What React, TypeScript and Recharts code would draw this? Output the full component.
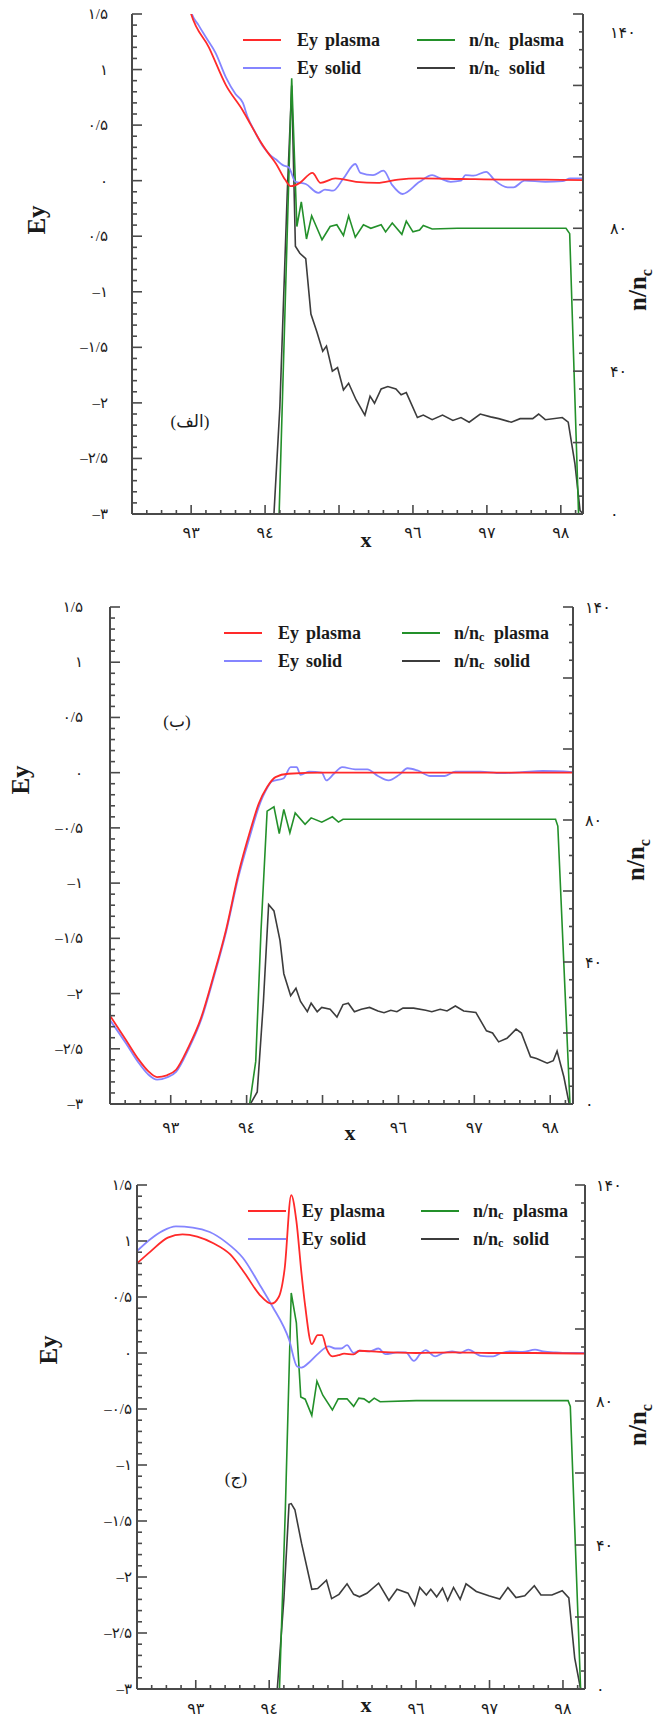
import { LineChart, Line, XAxis, YAxis, Legend } from "recharts"

type Pt = { x: number; y: number }
const pts = (xs: number[], ys: number[]): Pt[] => xs.map((x, i) => ({ x, y: ys[i] }))

// ---------- panel (الف)
const xEyPlasmaA = [92.95, 93.0, 93.24, 93.47, 93.7, 93.81, 93.93, 94.04, 94.15, 94.27, 94.35, 94.47, 94.64, 94.75, 94.95, 95.23, 95.52, 95.8, 96.09, 96.65, 97.22, 97.79, 98.3]
const eyPlasmaA = [1.62, 1.5, 1.2, 0.86, 0.63, 0.5, 0.36, 0.25, 0.15, 0.01, -0.05, -0.02, 0.07, -0.02, 0.02, -0.01, -0.02, 0.01, 0.02, 0.015, 0.01, 0.01, 0.005]
const xEySolidA = [92.97, 93.0, 93.1, 93.2, 93.33, 93.47, 93.6, 93.7, 93.76, 93.87, 93.98, 94.07, 94.15, 94.24, 94.32, 94.41, 94.55, 94.72, 94.81, 94.92, 95.06, 95.22, 95.29, 95.46, 95.6, 95.72, 95.86, 96.09, 96.26, 96.37, 96.51, 96.65, 96.71, 96.82, 96.99, 97.11, 97.28, 97.36, 97.51, 97.79, 98.02, 98.13, 98.3]
const eySolidA = [1.6, 1.52, 1.4, 1.29, 1.15, 0.93, 0.78, 0.7, 0.58, 0.43, 0.3, 0.23, 0.19, 0.14, 0.12, -0.01, -0.03, -0.11, -0.08, -0.09, 0.02, 0.15, 0.07, 0.05, 0.09, -0.04, -0.12, -0.01, 0.05, 0.02, -0.01, 0.0, 0.05, 0.045, 0.08, 0.0, -0.06, -0.06, 0.0, -0.01, -0.005, 0.02, 0.02]
const xNPlasmaA = [92.2, 94.19, 94.36, 94.43, 94.49, 94.56, 94.63, 94.77, 94.88, 94.97, 95.06, 95.13, 95.22, 95.33, 95.43, 95.57, 95.63, 95.72, 95.85, 95.91, 96.0, 96.09, 96.14, 96.26, 96.6, 97.2, 97.7, 98.07, 98.12, 98.24, 98.3]
const nPlasmaA = [0, 0, 122, 80.5, 87.4, 77, 83.5, 76.8, 80.5, 81, 78, 83.5, 77.5, 81, 80, 81, 79, 81.5, 78.3, 82, 79, 79.5, 80.8, 79.8, 80, 80, 80, 80, 78.5, 0, 0]
const xNSolidA = [92.2, 94.12, 94.2, 94.3, 94.36, 94.41, 94.47, 94.55, 94.62, 94.7, 94.78, 94.83, 94.91, 94.98, 95.06, 95.13, 95.23, 95.35, 95.42, 95.48, 95.57, 95.66, 95.77, 95.84, 95.91, 96.06, 96.14, 96.26, 96.4, 96.54, 96.65, 96.76, 96.91, 97.05, 97.16, 97.33, 97.45, 97.62, 97.7, 97.79, 98.02, 98.1, 98.19, 98.26, 98.3]
const nSolidA = [0, 0, 30, 90, 120, 75, 73, 71.5, 56, 51, 45.6, 47, 40, 41, 34.7, 36.6, 32, 27.7, 33, 31, 35, 35.7, 35, 33.4, 34, 27, 27.7, 26.4, 27.7, 26.2, 27, 25.7, 28, 27.2, 26.7, 25.7, 26.7, 26.7, 28, 26.4, 27, 25.7, 14.2, 1, 0]

// ---------- panel (ب)
const xEyPlasmaB = [92.2, 92.41, 92.57, 92.7, 92.82, 92.95, 93.07, 93.23, 93.4, 93.56, 93.73, 93.89, 94.05, 94.16, 94.27, 94.38, 94.55, 95.0, 96.0, 97.0, 98.3]
const eyPlasmaB = [-2.2, -2.42, -2.59, -2.7, -2.756, -2.74, -2.69, -2.49, -2.22, -1.85, -1.42, -0.92, -0.52, -0.28, -0.13, -0.04, -0.01, 0, 0, 0, 0]
const xEySolidB = [92.2, 92.41, 92.57, 92.7, 92.82, 92.95, 93.07, 93.23, 93.4, 93.56, 93.73, 93.89, 94.05, 94.16, 94.27, 94.33, 94.49, 94.58, 94.66, 94.71, 94.82, 94.99, 95.05, 95.15, 95.26, 95.43, 95.59, 95.73, 95.87, 96.01, 96.12, 96.25, 96.42, 96.61, 96.75, 97.08, 97.35, 97.63, 97.9, 98.3]
const eySolidB = [-2.24, -2.45, -2.62, -2.73, -2.78, -2.76, -2.71, -2.51, -2.24, -1.87, -1.44, -0.95, -0.56, -0.31, -0.14, -0.08, -0.05, 0.05, 0.05, -0.02, 0.01, 0.0, -0.07, -0.01, 0.05, 0.03, 0.03, -0.03, -0.07, -0.02, 0.04, 0.02, -0.03, -0.03, 0.01, 0.01, -0.005, 0.005, 0.015, 0.005]
const xNPlasmaB = [92.2, 94.04, 94.12, 94.19, 94.27, 94.36, 94.43, 94.49, 94.57, 94.64, 94.77, 94.85, 94.99, 95.13, 95.21, 95.27, 96.0, 97.0, 98.07, 98.1, 98.26, 98.3]
const nPlasmaB = [0, 0, 12, 49, 82.5, 83.7, 76.2, 83, 76.4, 82, 78.8, 80.6, 79.4, 80.9, 79.4, 80.2, 80.2, 80.2, 80.2, 78.3, 0, 0]
const xNSolidB = [92.2, 94.05, 94.14, 94.22, 94.29, 94.36, 94.44, 94.49, 94.58, 94.65, 94.71, 94.8, 94.85, 94.93, 94.99, 95.1, 95.19, 95.27, 95.34, 95.42, 95.51, 95.62, 95.73, 95.81, 95.9, 95.98, 96.06, 96.2, 96.36, 96.44, 96.55, 96.64, 96.75, 96.86, 97.02, 97.16, 97.24, 97.32, 97.43, 97.55, 97.62, 97.74, 97.82, 97.96, 98.04, 98.09, 98.18, 98.25, 98.3]
const nSolidB = [0, 0, 3.4, 28.4, 56.2, 54.4, 46, 36.7, 30.5, 32.6, 28.9, 26, 28.4, 26, 27.2, 26.7, 24.5, 28, 28.4, 26, 26.7, 27.2, 26.2, 25.7, 26.4, 26, 27, 27, 26.4, 26, 26.7, 26.2, 27.6, 26.2, 25.8, 20.6, 20, 17.5, 18.5, 21.1, 20, 13.3, 12.8, 11.5, 12.2, 14.9, 7.6, 0, 0]

// ---------- panel (ج)
const xEyPlasmaC = [92.2, 92.39, 92.62, 92.82, 93.02, 93.24, 93.47, 93.67, 93.87, 94.03, 94.13, 94.21, 94.3, 94.37, 94.44, 94.49, 94.58, 94.66, 94.72, 94.78, 94.86, 94.94, 95.02, 95.15, 95.23, 95.5, 96.0, 96.5, 97.0, 97.6, 98.3]
const eyPlasmaC = [0.8, 0.91, 1.03, 1.06, 1.04, 0.98, 0.88, 0.71, 0.52, 0.44, 0.5, 0.75, 1.41, 1.18, 0.71, 0.42, 0.08, 0.16, 0.16, 0.04, -0.03, -0.02, -0.006, -0.013, 0.02, 0.01, 0.0, 0.005, 0.0, 0.0, -0.005]
const xEySolidC = [92.2, 92.39, 92.55, 92.73, 92.96, 93.19, 93.41, 93.64, 93.87, 94.04, 94.27, 94.38, 94.44, 94.55, 94.66, 94.81, 94.9, 94.98, 95.06, 95.15, 95.23, 95.37, 95.49, 95.58, 95.75, 95.86, 95.97, 96.06, 96.13, 96.26, 96.37, 96.49, 96.6, 96.71, 96.88, 97.05, 97.16, 97.28, 97.45, 97.62, 97.73, 97.9, 98.07, 98.3]
const eySolidC = [0.91, 1.02, 1.09, 1.13, 1.12, 1.08, 0.99, 0.85, 0.61, 0.42, 0.12, -0.12, -0.13, -0.08, -0.01, 0.06, 0.04, 0.04, 0.07, 0.0, 0.02, 0.015, 0.04, -0.01, 0.005, 0.005, -0.07, -0.005, 0.025, -0.03, 0.0, 0.015, 0.0, 0.03, -0.025, -0.03, 0.0, 0.015, 0.01, 0.03, 0.015, 0.005, 0.0, 0.0]
const xNPlasmaC = [92.2, 94.14, 94.22, 94.3, 94.37, 94.43, 94.49, 94.58, 94.65, 94.73, 94.86, 94.94, 95.06, 95.15, 95.22, 95.29, 95.36, 95.43, 95.51, 96.0, 97.0, 98.07, 98.1, 98.24, 98.3]
const nPlasmaC = [0, 0, 50, 110, 101.7, 81.1, 80.5, 76, 85.5, 81.6, 77.5, 80.6, 80.6, 78.5, 80.8, 80.6, 79.6, 80.8, 79.8, 80.1, 80.1, 80.1, 78.5, 0, 0]
const xNSolidC = [92.2, 94.11, 94.2, 94.27, 94.3, 94.35, 94.44, 94.58, 94.66, 94.78, 94.85, 94.95, 95.06, 95.15, 95.23, 95.33, 95.49, 95.63, 95.74, 95.89, 95.98, 96.05, 96.14, 96.2, 96.28, 96.36, 96.43, 96.51, 96.6, 96.68, 96.82, 96.99, 97.14, 97.25, 97.36, 97.48, 97.61, 97.7, 97.85, 97.99, 98.08, 98.16, 98.24, 98.3]
const nSolidC = [0, 0, 25, 51.3, 51.5, 49.8, 40.5, 27.7, 27.9, 30.2, 25.1, 26.3, 29.2, 26.3, 25.6, 26.6, 29.4, 24.6, 27.7, 26.6, 23.2, 28.2, 26.1, 27.7, 25.6, 28, 24.6, 28.2, 24.9, 29.2, 27.1, 25.9, 25, 28.2, 25.4, 25.9, 28.7, 26.1, 26.1, 27.3, 25.3, 8.6, 0, 0]

// ---------- axes
const X_DOMAIN = [92.2, 98.3]
const xTickLabels: Record<number, string> = { 93: "۹۳", 94: "۹٤", 96: "۹٦", 97: "۹۷", 98: "۹۸" }
const eyTickValues = [1.5, 1, 0.5, 0, -0.5, -1, -1.5, -2, -2.5, -3]
const eyTickLabels = ["۱/۵", "۱", "۰/۵", "۰", "–۰/۵", "–۱", "–۱/۵", "–۲", "–۲/۵", "–۳"]
const eyTickLabelsA = ["۱/۵", "۱", "۰/۵", "۰", "۰/۵", "–۱", "–۱/۵", "–۲", "–۲/۵", "–۳"]
const nTickLabels: Record<number, string> = { 0: "۰", 40: "۴۰", 80: "۸۰", 140: "۱۴۰" }

const xTicks = Array.from({ length: 30 }, (_, i) => Math.round((92.4 + i * 0.2) * 10) / 10)
const eyTicks = Array.from({ length: 46 }, (_, i) => Math.round((-3 + i * 0.1) * 10) / 10)
const nTicks = Array.from({ length: 29 }, (_, i) => i * 5)

const legendItems = [
  { a: "Ey", b: "plasma", sub: false, color: "#ff2a2a" },
  { a: "Ey", b: "solid", sub: false, color: "#8585ff" },
  { a: "n/n", b: "plasma", sub: true, color: "#23902a" },
  { a: "n/n", b: "solid", sub: true, color: "#3c3c3c" },
]

const FRAME = "#4a4a4a"
const INK = "#1a1a1a"
const SERIF = "'Liberation Serif', 'DejaVu Serif', serif"
const DIGITS = "'Liberation Serif', 'DejaVu Sans', serif"

const isMajor = (v: number, step: number) => Math.abs(v / step - Math.round(v / step)) < 1e-6

interface PanelSpec {
  left: number
  right: number
  top: number
  bottom: number
  bottomH: number
  eyPlasma: Pt[]
  eySolid: Pt[]
  nPlasma: Pt[]
  nSolid: Pt[]
  eyLabels: string[]
  leftGap: number
  rightGap: number
  xLabelDy: number
  topLabelDy: number
  legendX: number
  col2: number
}

function LegendBox({ col2 }: { col2: number }) {
  return (
    <svg width={380} height={64} style={{ overflow: "visible" }}>
      {legendItems.map((it, i) => {
        const col = i < 2 ? 0 : col2
        const y = 14 + (i % 2) * 28
        return (
          <g key={i}>
            <line x1={col} x2={col + 38} y1={y} y2={y} stroke={it.color} strokeWidth={2} />
            <text x={col + (it.sub ? 52 : 54)} y={y} dominantBaseline="central" fontFamily={SERIF} fontWeight="bold" fontSize={18} fill={INK}>
              {it.a}
              {it.sub && <tspan fontSize={12} dy={4}>c</tspan>}
            </text>
            <text x={col + (it.sub ? 92 : 82)} y={y} dominantBaseline="central" fontFamily={SERIF} fontWeight="bold" fontSize={18} fill={INK}>
              {it.b}
            </text>
          </g>
        )
      })}
    </svg>
  )
}

function Panel({ p }: { p: PanelSpec }) {
  const W = 657
  const mTop = 10
  const H = p.bottom - p.top + mTop + p.bottomH

  const bottomTick = (t: any) => {
    const v = t.payload.value
    const major = isMajor(v, 1)
    const label = major ? xTickLabels[Math.round(v)] : undefined
    return (
      <g>
        <line x1={t.x} x2={t.x} y1={t.y} y2={t.y - (major ? 9 : 4)} stroke={FRAME} strokeWidth={1.6} />
        {label && (
          <text x={t.x} y={t.y + p.xLabelDy} textAnchor="middle" dominantBaseline="central" fontFamily={DIGITS} fontSize={16} fill={INK}>
            {label}
          </text>
        )}
      </g>
    )
  }
  const topTick = (t: any) => {
    const major = isMajor(t.payload.value, 1)
    return <line x1={t.x} x2={t.x} y1={t.y} y2={t.y + (major ? 9 : 4)} stroke={FRAME} strokeWidth={1.6} />
  }
  const leftTick = (t: any) => {
    const v = t.payload.value
    const major = isMajor(v, 0.5)
    const idx = eyTickValues.findIndex((e) => Math.abs(e - v) < 1e-6)
    return (
      <g>
        <line x1={t.x} x2={t.x + (major ? 10 : 5)} y1={t.y} y2={t.y} stroke={FRAME} strokeWidth={1.6} />
        {major && idx >= 0 && (
          <text x={t.x - p.leftGap} y={t.y} textAnchor="end" dominantBaseline="central" fontFamily={DIGITS} fontSize={15} fill={INK}>
            {p.eyLabels[idx]}
          </text>
        )}
      </g>
    )
  }
  const rightTick = (t: any) => {
    const v = t.payload.value
    const major = isMajor(v, 20)
    const label = nTickLabels[v]
    return (
      <g>
        <line x1={t.x} x2={t.x - (major ? 10 : 4)} y1={t.y} y2={t.y} stroke={FRAME} strokeWidth={1.6} />
        {label && (
          <text x={t.x + p.rightGap} y={t.y + (v === 140 ? p.topLabelDy : 0)} textAnchor="start" dominantBaseline="central" fontFamily={DIGITS} fontSize={16} fill={INK}>
            {label}
          </text>
        )}
      </g>
    )
  }

  return (
    <div style={{ position: "absolute", left: 0, top: p.top - mTop, width: W, height: H }}>
      <LineChart width={W} height={H} margin={{ top: mTop, right: 0, bottom: 0, left: 0 }}>
        <XAxis xAxisId="b" dataKey="x" type="number" domain={X_DOMAIN} allowDataOverflow ticks={xTicks} interval={0}
          height={p.bottomH} tickSize={0} tickMargin={0} tickLine={false} tick={bottomTick}
          axisLine={{ stroke: FRAME, strokeWidth: 2 }} />
        <XAxis xAxisId="t" orientation="top" dataKey="x" type="number" domain={X_DOMAIN} allowDataOverflow ticks={xTicks} interval={0}
          height={0} tickSize={0} tickMargin={0} tickLine={false} tick={topTick}
          axisLine={{ stroke: FRAME, strokeWidth: 2 }} />
        <YAxis yAxisId="ey" type="number" domain={[-3, 1.5]} allowDataOverflow ticks={eyTicks} interval={0}
          width={p.left} tickSize={0} tickMargin={0} tickLine={false} tick={leftTick}
          axisLine={{ stroke: FRAME, strokeWidth: 2 }} />
        <YAxis yAxisId="n" orientation="right" type="number" domain={[0, 140]} allowDataOverflow ticks={nTicks} interval={0}
          width={W - p.right} tickSize={0} tickMargin={0} tickLine={false} tick={rightTick}
          axisLine={{ stroke: FRAME, strokeWidth: 2 }} />
        <Legend verticalAlign="middle" align="center" layout="horizontal"
          wrapperStyle={{ position: "absolute", left: p.left + p.legendX, top: mTop + 26 - 14, width: 380, height: 64 }}
          content={() => <LegendBox col2={p.col2} />} />
        <Line xAxisId="b" yAxisId="n" data={p.nSolid} dataKey="y" type="linear" dot={false} stroke="#3c3c3c" strokeWidth={1.6} isAnimationActive={false} />
        <Line xAxisId="b" yAxisId="n" data={p.nPlasma} dataKey="y" type="linear" dot={false} stroke="#23902a" strokeWidth={1.6} isAnimationActive={false} />
        <Line xAxisId="b" yAxisId="ey" data={p.eySolid} dataKey="y" type="monotone" dot={false} stroke="#8585ff" strokeWidth={1.8} isAnimationActive={false} />
        <Line xAxisId="b" yAxisId="ey" data={p.eyPlasma} dataKey="y" type="monotone" dot={false} stroke="#ff2a2a" strokeWidth={1.8} isAnimationActive={false} />
      </LineChart>
    </div>
  )
}

const panelA: PanelSpec = {
  left: 132, right: 583, top: 14, bottom: 514, bottomH: 40,
  eyPlasma: pts(xEyPlasmaA, eyPlasmaA), eySolid: pts(xEySolidA, eySolidA),
  nPlasma: pts(xNPlasmaA, nPlasmaA), nSolid: pts(xNSolidA, nSolidA),
  eyLabels: eyTickLabelsA, leftGap: 24, rightGap: 27, xLabelDy: 18, topLabelDy: 18, legendX: 111, col2: 174,
}
const panelB: PanelSpec = {
  left: 110, right: 573, top: 607, bottom: 1104, bottomH: 40,
  eyPlasma: pts(xEyPlasmaB, eyPlasmaB), eySolid: pts(xEySolidB, eySolidB),
  nPlasma: pts(xNPlasmaB, nPlasmaB), nSolid: pts(xNSolidB, nSolidB),
  eyLabels: eyTickLabels, leftGap: 27, rightGap: 12, xLabelDy: 23, topLabelDy: 0, legendX: 114, col2: 178,
}
const panelC: PanelSpec = {
  left: 137, right: 585, top: 1185, bottom: 1689, bottomH: 31,
  eyPlasma: pts(xEyPlasmaC, eyPlasmaC), eySolid: pts(xEySolidC, eySolidC),
  nPlasma: pts(xNPlasmaC, nPlasmaC), nSolid: pts(xNSolidC, nSolidC),
  eyLabels: eyTickLabels, leftGap: 5, rightGap: 11, xLabelDy: 19, topLabelDy: 0, legendX: 111, col2: 173,
}

const titles = [
  { ey: [36, 220], n: [640, 290], x: [366, 540], tag: "(الف)", tagAt: [190, 421] },
  { ey: [20, 780], n: [638, 860], x: [350, 1133], tag: "(ب)", tagAt: [177, 721] },
  { ey: [48, 1350], n: [640, 1425], x: [366, 1705], tag: "(ج)", tagAt: [236, 1478] },
]

const abs = (x: number, y: number, rotate = false): React.CSSProperties => ({
  position: "absolute",
  left: x,
  top: y,
  transform: `translate(-50%, -50%)${rotate ? " rotate(-90deg)" : ""}`,
  whiteSpace: "nowrap",
  lineHeight: 1,
})

export default function App() {
  return (
    <div style={{ position: "absolute", left: 0, top: 0, width: 657, height: 1720, overflow: "hidden", background: "#fff", color: INK }}>
      <Panel p={panelA} />
      <Panel p={panelB} />
      <Panel p={panelC} />
      {titles.map((t, i) => (
        <div key={i}>
          <div style={{ ...abs(t.ey[0], t.ey[1], true), fontFamily: SERIF, fontWeight: "bold", fontSize: 25 }}>Ey</div>
          <div style={{ ...abs(t.n[0], t.n[1], true), fontFamily: SERIF, fontWeight: "bold", fontSize: 25 }}>
            n/n<sub style={{ fontSize: 16 }}>c</sub>
          </div>
          <div style={{ ...abs(t.x[0], t.x[1]), fontFamily: SERIF, fontWeight: "bold", fontSize: 22 }}>x</div>
          <div style={{ ...abs(t.tagAt[0], t.tagAt[1]), fontFamily: DIGITS, fontSize: 17 }}>{t.tag}</div>
        </div>
      ))}
    </div>
  )
}
